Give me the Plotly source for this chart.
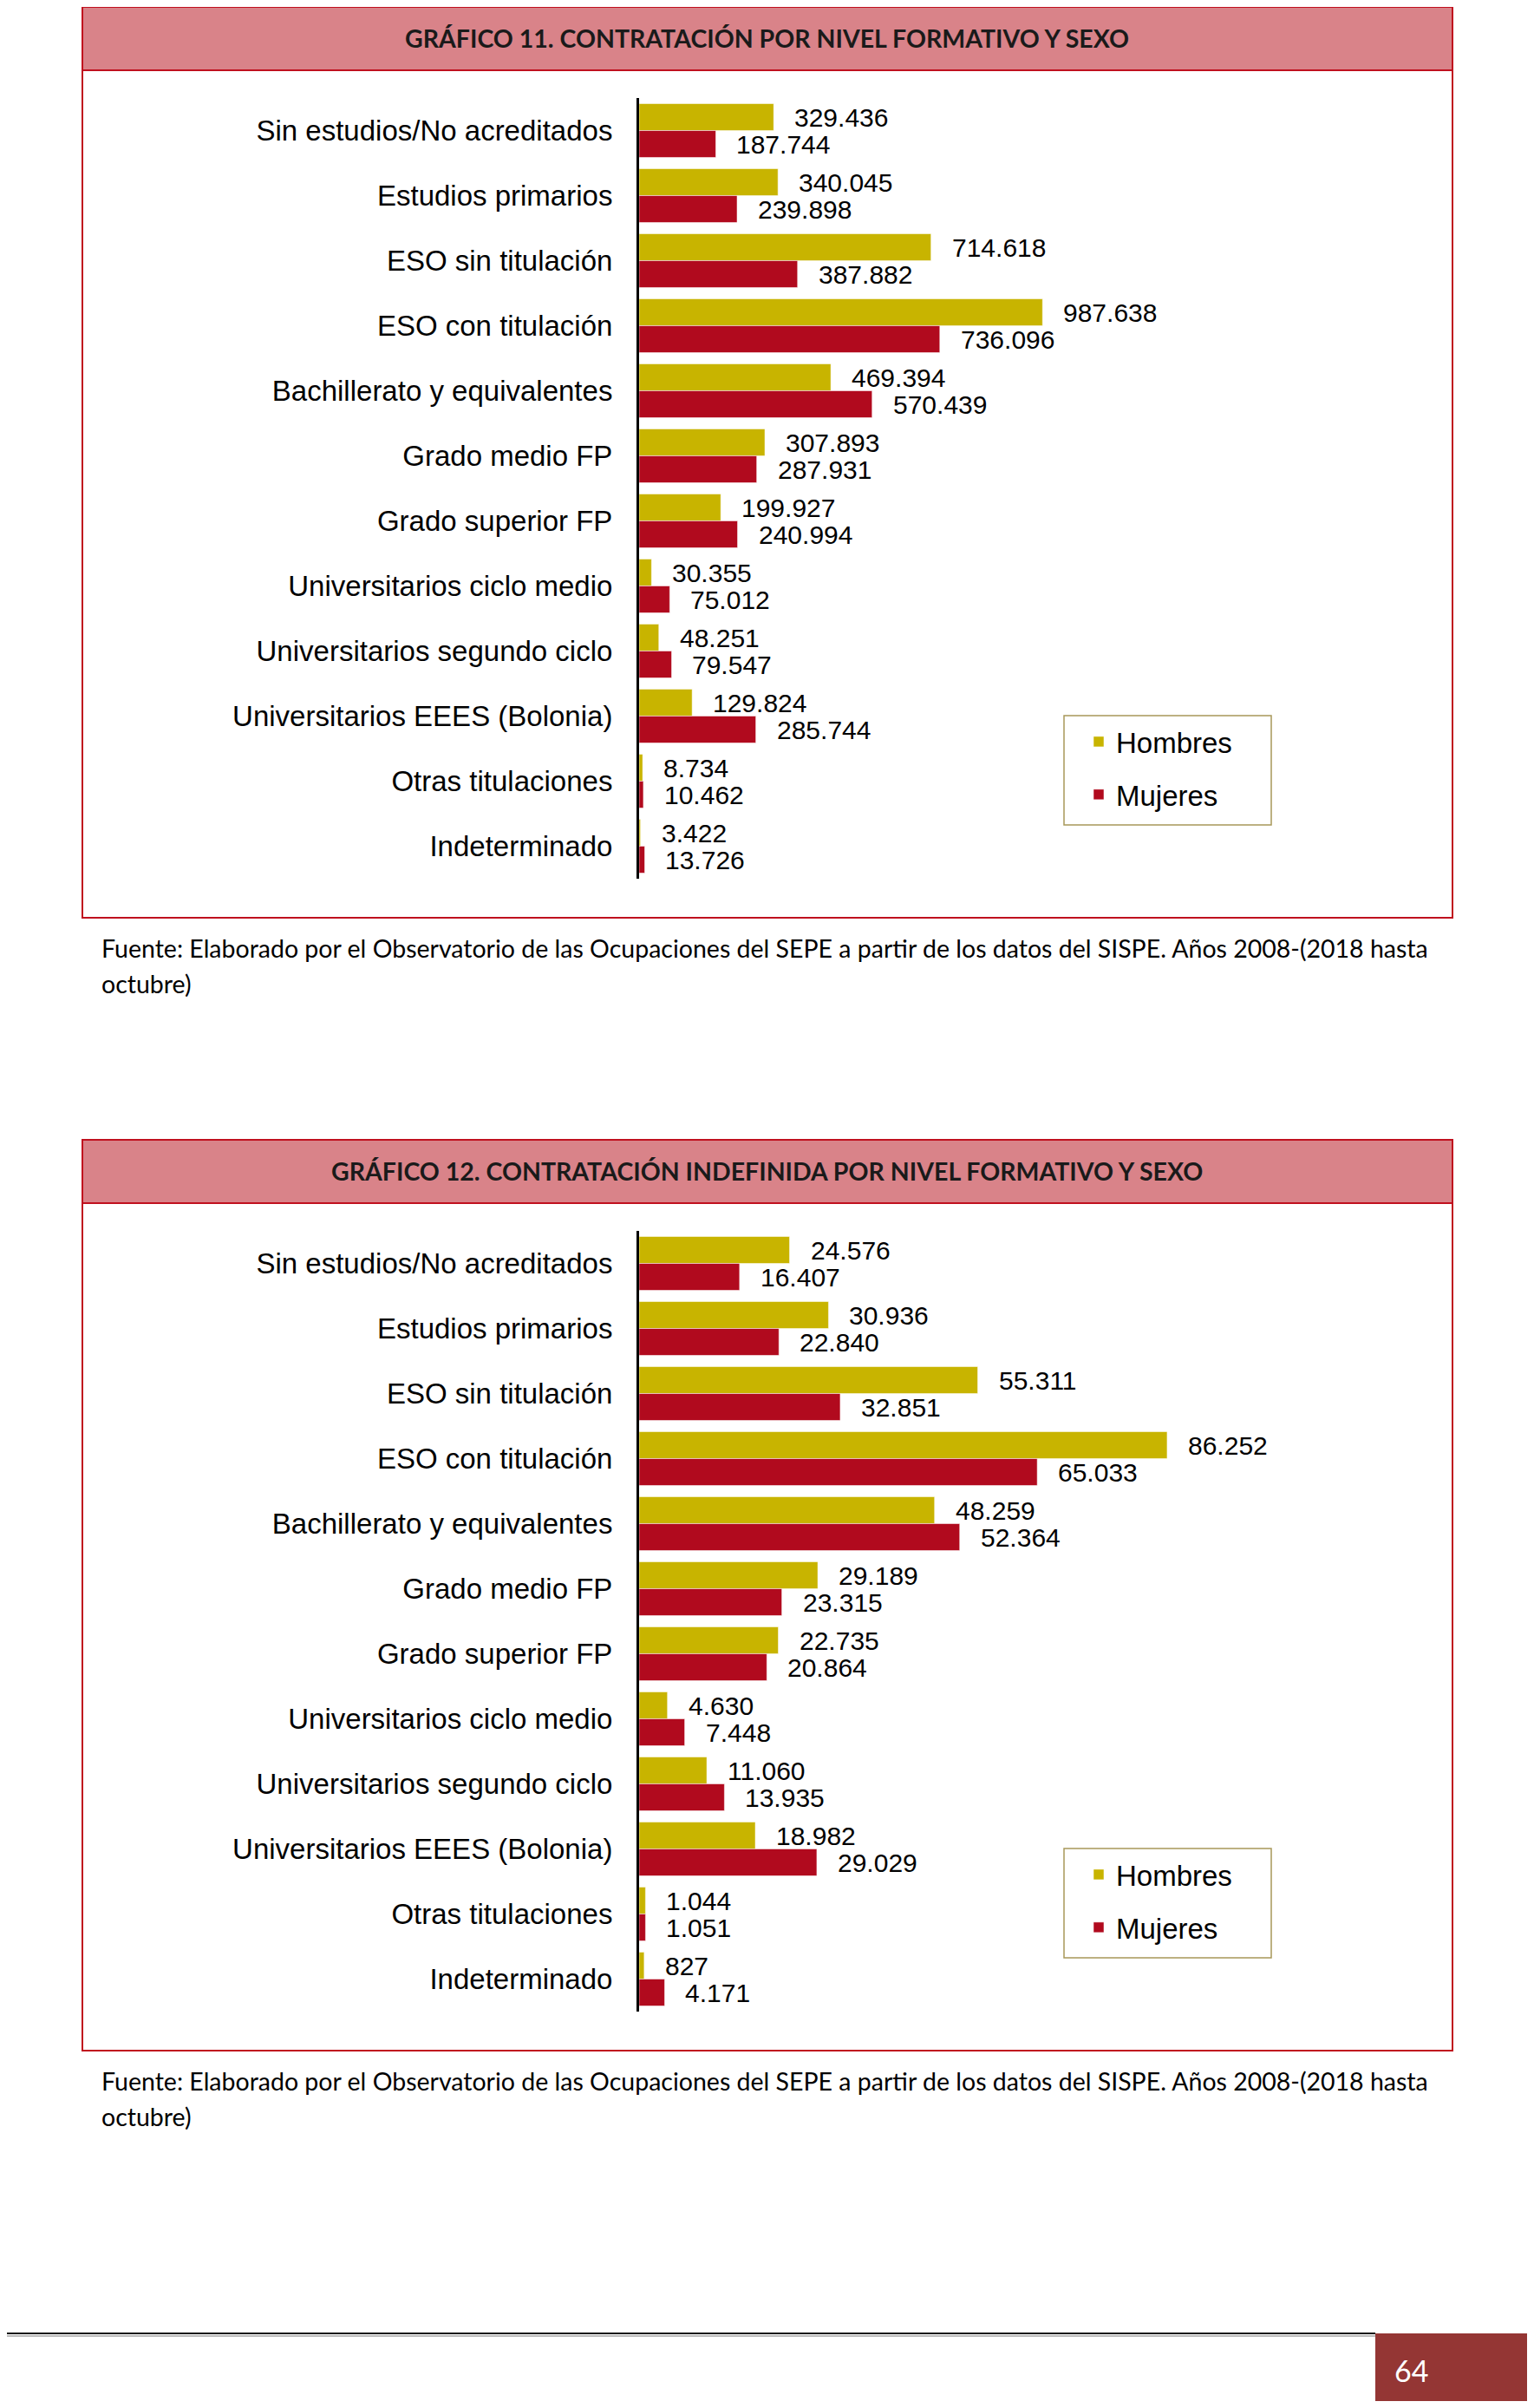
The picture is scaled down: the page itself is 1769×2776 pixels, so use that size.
import plotly.graph_objects as go

W, H = 1769, 2776
M = 8  # default page body margin in the browser
FW, FH = W - 2 * M, H - 2 * M

categories = ["Sin estudios/No acreditados", "Estudios primarios", "ESO sin titulación",
              "ESO con titulación", "Bachillerato y equivalentes", "Grado medio FP",
              "Grado superior FP", "Universitarios ciclo medio", "Universitarios segundo ciclo",
              "Universitarios EEES (Bolonia)", "Otras titulaciones", "Indeterminado"]

hombres_total = [329436, 340045, 714618, 987638, 469394, 307893, 199927, 30355, 48251, 129824, 8734, 3422]
mujeres_total = [187744, 239898, 387882, 736096, 570439, 287931, 240994, 75012, 79547, 285744, 10462, 13726]
hombres_indef = [24576, 30936, 55311, 86252, 48259, 29189, 22735, 4630, 11060, 18982, 1044, 827]
mujeres_indef = [16407, 22840, 32851, 65033, 52364, 23315, 20864, 7448, 13935, 29029, 1051, 4171]

series_names = ["Hombres", "Mujeres"]
titles = ["GRÁFICO 11. CONTRATACIÓN POR NIVEL FORMATIVO Y SEXO",
          "GRÁFICO 12. CONTRATACIÓN INDEFINIDA POR NIVEL FORMATIVO Y SEXO"]
source_line1 = "Fuente: Elaborado por el Observatorio de las Ocupaciones del SEPE a partir de los datos del SISPE. Años 2008-(2018 hasta"
source_line2 = "octubre)"
page_number = "64"

C_H = "#C8B400"
C_M = "#B10A1E"
FRAME = "#C0101E"
BAR_TITLE = "#D98389"
ARIAL = "Liberation Sans, Arial, sans-serif"
CALIBRI = "Lato, Carlito, Calibri, sans-serif"


def px(x):
    return (x - M) / FW


def py(y):
    return 1 - (y - M) / FH


def fmt(v):
    return f"{v:,}".replace(",", ".")


fig = go.Figure()
annotations = []
shapes = []

charts = [
    (hombres_total, mujeres_total, 0, 1486000, "x", "y", "legend"),
    (hombres_indef, mujeres_indef, 1306, 99150, "x2", "y2", "legend2"),
]

for ci, (hv, mv, off, xmax, xr, yr, lg) in enumerate(charts):
    for name, vals, col, shift in ((series_names[0], hv, C_H, 15.5), (series_names[1], mv, C_M, -15.5)):
        fig.add_trace(go.Bar(
            y=categories, x=vals, orientation="h", name=name,
            marker=dict(color=col, line=dict(color="rgba(255,255,255,0.5)", width=1)),
            xaxis=xr, yaxis=yr, legend=lg, legendgroup=f"{name}{ci}",
            hoverinfo="x+y",
        ))
        for c, v in zip(categories, vals):
            annotations.append(dict(
                x=v, y=c, xref=xr, yref=yr, text=fmt(v), showarrow=False,
                xanchor="left", yanchor="middle", xshift=22, yshift=shift,
                font=dict(family=ARIAL, size=30, color="#000000"),
            ))
    # frame + title bar
    shapes.append(dict(type="rect", xref="paper", yref="paper",
                       x0=px(95), x1=px(1675), y0=py(1058 + off), y1=py(8 + off),
                       line=dict(color=FRAME, width=2), fillcolor="rgba(0,0,0,0)", layer="below"))
    shapes.append(dict(type="rect", xref="paper", yref="paper",
                       x0=px(95), x1=px(1675), y0=py(81 + off), y1=py(8 + off),
                       line=dict(color=FRAME, width=2), fillcolor=BAR_TITLE, layer="below"))
    # legend frame
    shapes.append(dict(type="rect", xref="paper", yref="paper",
                       x0=px(1227), x1=px(1466), y0=py(951 + off), y1=py(825 + off),
                       line=dict(color="#A8985A", width=1.5), fillcolor="rgba(0,0,0,0)", layer="below"))
    annotations.append(dict(x=px(884), y=py(44 + off), xref="paper", yref="paper",
                            text=f"<b>{titles[ci]}</b>", showarrow=False,
                            xanchor="center", yanchor="middle",
                            font=dict(family=CALIBRI, size=28.5, color="#1a1a1a")))
    annotations.append(dict(x=px(115), y=py(1093 + off), xref="paper", yref="paper",
                            text=source_line1, showarrow=False, xanchor="left", yanchor="middle",
                            font=dict(family=CALIBRI, size=28.5, color="#000000")))
    annotations.append(dict(x=px(115), y=py(1134 + off), xref="paper", yref="paper",
                            text=source_line2, showarrow=False, xanchor="left", yanchor="middle",
                            font=dict(family=CALIBRI, size=28.5, color="#000000")))

# page footer
shapes.append(dict(type="line", xref="paper", yref="paper", x0=px(8), x1=px(1586),
                   y0=py(2690), y1=py(2690), line=dict(color="#111111", width=2)))
shapes.append(dict(type="line", xref="paper", yref="paper", x0=px(8), x1=px(1586),
                   y0=py(2693), y1=py(2693), line=dict(color="#bbbbbb", width=2)))
shapes.append(dict(type="rect", xref="paper", yref="paper", x0=px(1586), x1=px(1764),
                   y0=py(2769), y1=py(2690), line=dict(width=0), fillcolor="#943634"))
annotations.append(dict(x=px(1606), y=py(2732), xref="paper", yref="paper", text=page_number,
                        showarrow=False, xanchor="left", yanchor="middle",
                        font=dict(family=CALIBRI, size=34, color="#ffffff")))

common_x = dict(showgrid=False, zeroline=False, showticklabels=False, showline=False, ticks="")
common_y = dict(type="category", categoryorder="array", categoryarray=categories,
                autorange="reversed", showline=True, linecolor="#000000", linewidth=3,
                ticks="", showgrid=False, ticklabelstandoff=21,
                tickfont=dict(family=ARIAL, size=33, color="#000000"))

legend_common = dict(xanchor="left", yanchor="top", bgcolor="rgba(0,0,0,0)",
                     borderwidth=0,
                     font=dict(family=ARIAL, size=33, color="#000000"),
                     traceorder="grouped", tracegroupgap=15, indentation=20,
                     itemclick=False, itemdoubleclick=False)

fig.update_layout(
    width=FW, height=FH,
    margin=dict(l=0, r=0, t=0, b=0),
    paper_bgcolor="#ffffff", plot_bgcolor="rgba(0,0,0,0)",
    barmode="group", bargap=0.173, bargroupgap=0,
    separators=",.",
    showlegend=True,
    xaxis=dict(domain=[px(737), px(1437)], range=[0, 1486000], anchor="y", **common_x),
    yaxis=dict(domain=[py(1013), py(113)], anchor="x", **common_y),
    xaxis2=dict(domain=[px(737), px(1437)], range=[0, 99150], anchor="y2", **common_x),
    yaxis2=dict(domain=[py(1013 + 1306), py(113 + 1306)], anchor="x2", **common_y),
    legend=dict(x=px(1227), y=py(827), **legend_common),
    legend2=dict(x=px(1227), y=py(827 + 1306), **legend_common),
    shapes=shapes,
    annotations=annotations,
)

fig.write_html("out.html")
